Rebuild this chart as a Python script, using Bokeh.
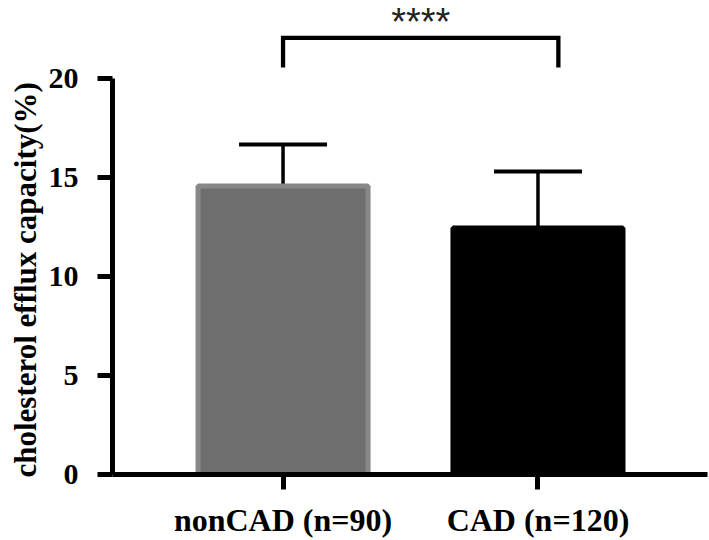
from bokeh.plotting import figure
from bokeh.models import Range1d, FixedTicker, ColumnDataSource, Whisker, TeeHead, Label, Title
from bokeh.embed import file_html
from bokeh.resources import INLINE

# ---- data ----
categories = ["nonCAD (n=90)", "CAD (n=120)"]
means = [14.57, 12.45]
sds = [2.10, 2.85]
bar_fill = ["#6e6e6e", "#000000"]
bar_line = ["#888888", "#000000"]
y_ticks = [0, 5, 10, 15, 20]
y_label = "cholesterol efflux capacity(%)"
sig_pair = (0, 1)
sig_label = "****"
sig_y = 22.05
sig_drop = 1.5
sig_right_shift = 0.08

x = list(range(len(categories)))
upper = [m + s for m, s in zip(means, sds)]

src = ColumnDataSource(dict(x=x, top=means, upper=upper, fill=bar_fill, line=bar_line))

Y_END = 23.94
p = figure(width=709, height=540, output_backend="svg", toolbar_location=None,
           x_range=Range1d(-0.669, 1.665), y_range=Range1d(0, Y_END),
           min_border_left=112, min_border_right=2, min_border_top=0, min_border_bottom=66)
p.outline_line_color = None
p.xgrid.visible = False
p.ygrid.visible = False
p.background_fill_color = "white"
p.border_fill_color = "white"

# error bars (upper only)
wh = Whisker(base="x", lower="top", upper="upper", source=src, dimension="height",
             lower_head=None,
             upper_head=TeeHead(size=88, line_width=4, line_color="black"),
             line_width=3.5, line_color="black")
p.add_layout(wh)

# bars
p.vbar(x="x", top="top", bottom=0, width=0.667, source=src,
       fill_color="fill", line_color="line", line_width=5)

# significance bracket
x0 = sig_pair[0]
x1 = sig_pair[1] + sig_right_shift
p.line([x0, x0, x1, x1], [sig_y - sig_drop, sig_y, sig_y, sig_y - sig_drop],
       line_color="black", line_width=4.3, line_join="miter", line_cap="butt")
p.add_layout(Label(x=(x0 + x1) / 2, y=Y_END, text=sig_label, text_align="center",
                   text_baseline="top", text_font="Liberation Sans",
                   text_font_size="38px", text_color="#222222"))

# axes
for ax in (p.xaxis[0], p.yaxis[0]):
    ax.axis_line_width = 5
    ax.axis_line_color = "black"
    ax.major_tick_line_width = 5
    ax.major_tick_line_color = "black"
    ax.major_tick_out = 15
    ax.major_tick_in = 0
    ax.minor_tick_line_color = None
    ax.major_label_text_font = "Liberation Serif"
    ax.major_label_text_font_style = "bold"
    ax.major_label_text_color = "black"

p.yaxis.ticker = FixedTicker(ticks=y_ticks)
p.yaxis.bounds = (y_ticks[0], y_ticks[-1])
p.yaxis.major_label_text_font_size = "30px"
p.yaxis.major_label_standoff = 19

# y axis title, as a side title so it can be shifted along the axis
p.add_layout(Title(text=y_label, align="left", offset=-3, standoff=5,
                   text_font="Liberation Serif", text_font_style="bold",
                   text_font_size="31px", text_color="black"), "left")

p.xaxis.ticker = FixedTicker(ticks=x)
p.xaxis.major_label_overrides = {i: c for i, c in zip(x, categories)}
p.xaxis.major_label_text_font_size = "32px"
p.xaxis.major_label_standoff = 12

open("out.html", "w").write(file_html(p, INLINE))
